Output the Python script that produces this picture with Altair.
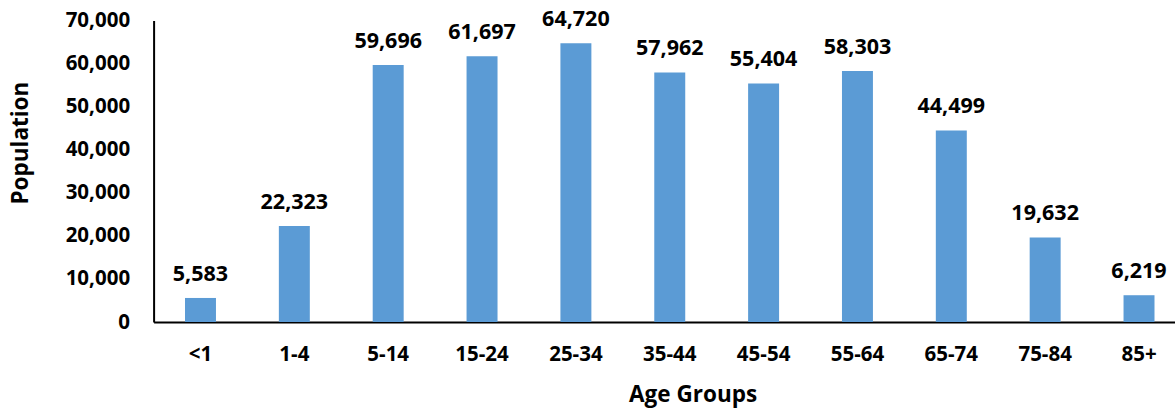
import altair as alt
import pandas as pd

# Population by age group
age_groups = ["<1", "1-4", "5-14", "15-24", "25-34", "35-44",
              "45-54", "55-64", "65-74", "75-84", "85+"]
population = [5583, 22323, 59696, 61697, 64720, 57962,
              55404, 58303, 44499, 19632, 6219]
y_ticks = [0, 10000, 20000, 30000, 40000, 50000, 60000, 70000]

df = pd.DataFrame({"age": age_groups, "pop": population})

FONT = "Open Sans"
BAR = "#5B9BD5"
AXIS_LABEL_SIZE = 20.5
VALUE_LABEL_SIZE = 21.5
TITLE_SIZE = 22.5

x_enc = alt.X(
    "age:N",
    sort=age_groups,
    title="Age Groups",
    scale=alt.Scale(paddingInner=0.67, paddingOuter=0.2765, align=0.605),
    axis=alt.Axis(
        labelAngle=0,
        ticks=False,
        tickSize=0,
        labelPadding=38,
        labelBaseline="alphabetic",
        labelFont=FONT,
        labelFontSize=AXIS_LABEL_SIZE,
        labelFontWeight="bold",
        labelColor="#000000",
        domainColor="#000000",
        domainWidth=2,
        grid=False,
        titleFont=FONT,
        titleFontSize=TITLE_SIZE,
        titleFontWeight="bold",
        titleColor="#000000",
        titleX=539,
        titleY=79,
        titleAlign="center",
        titleBaseline="alphabetic",
    ),
)

y_enc = alt.Y(
    "pop:Q",
    title="Population",
    scale=alt.Scale(domain=[0, 70000], nice=False),
    axis=alt.Axis(
        values=y_ticks,
        format=",.0f",
        ticks=False,
        tickSize=0,
        labelPadding=24,
        labelFont=FONT,
        labelFontSize=AXIS_LABEL_SIZE,
        labelFontWeight="bold",
        labelColor="#000000",
        domainColor="#000000",
        domainWidth=2,
        grid=False,
        titleFont=FONT,
        titleFontSize=TITLE_SIZE,
        titleFontWeight="bold",
        titleColor="#000000",
        titleAngle=-90,
        titleX=-133,
        titleY=122,
        titleAlign="center",
        titleBaseline="middle",
    ),
)

base = alt.Chart(df).encode(x=x_enc, y=y_enc)

bars = base.mark_bar(color=BAR)

labels = base.mark_text(
    font=FONT,
    fontSize=VALUE_LABEL_SIZE,
    fontWeight="bold",
    color="#000000",
    baseline="alphabetic",
    align="center",
    dy=-17,
).encode(text=alt.Text("pop:Q", format=",.0f"))

chart = (
    alt.layer(bars, labels)
    .properties(
        width=1021.4,
        height=301.4,
        autosize=alt.AutoSizeParams(type="none"),
        padding={"left": 153.6, "top": 20.6, "right": 0, "bottom": 90},
        background="#ffffff",
    )
    .configure_view(stroke=None)
)

chart.save("out.html", embed_options={"renderer": "svg", "actions": False})
